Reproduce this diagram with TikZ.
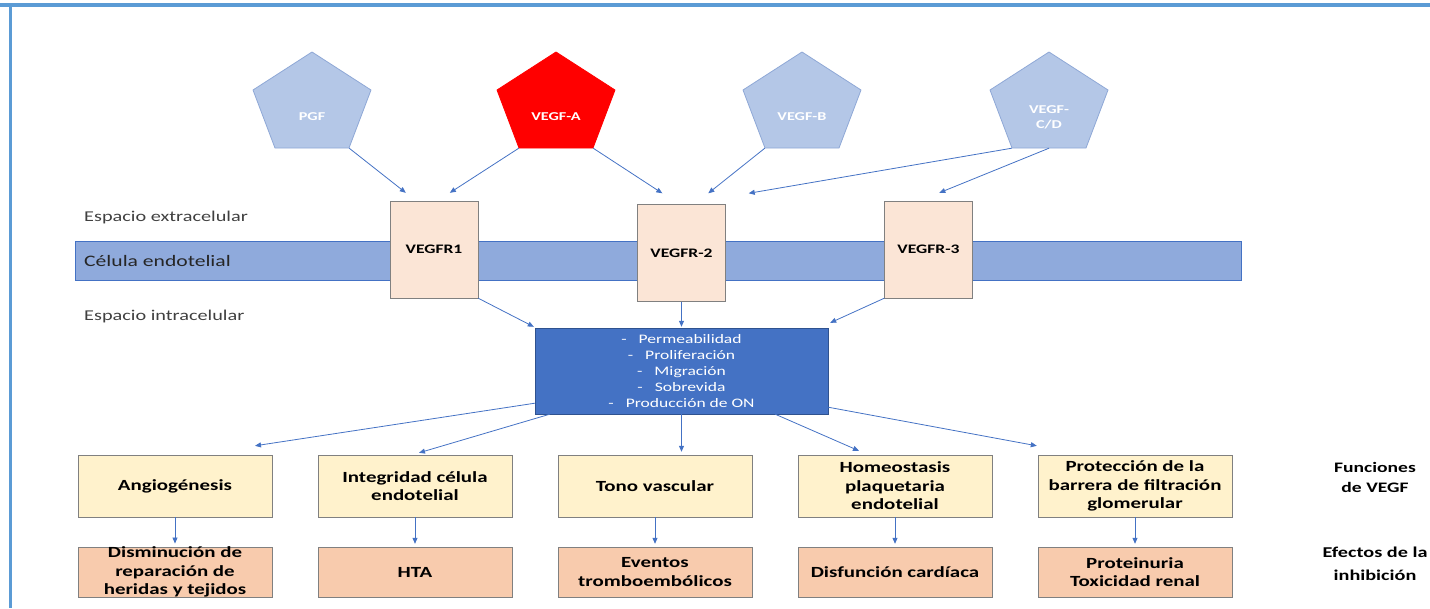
\documentclass[tikz,border=0pt]{standalone}
\usepackage{fontspec}
\setmainfont{Carlito}[FakeStretch=1.35]
\usetikzlibrary{arrows.meta}
\definecolor{marco}{HTML}{5B9BD5}
\definecolor{ligclaro}{HTML}{B4C7E7}
\definecolor{ligborde}{HTML}{8FA8D6}
\definecolor{rojo}{HTML}{FF0000}
\definecolor{membr}{HTML}{8FAADC}
\definecolor{recfill}{HTML}{FBE5D6}
\definecolor{azul}{HTML}{4472C4}
\definecolor{azulborde}{HTML}{2F528F}
\definecolor{funcfill}{HTML}{FFF2CC}
\definecolor{efecfill}{HTML}{F8CBAD}
\definecolor{texto}{HTML}{404040}
\begin{document}
\begin{tikzpicture}[x=1pt,y=-1pt,
  ligando/.style={minimum width=74pt,minimum height=62pt,inner sep=0pt,align=center,text=white,font=\bfseries\fontsize{12}{15}\selectfont},
  penta/.style={draw=ligborde,fill=ligclaro,line width=0.8pt},
  receptor/.style={draw=gray,fill=recfill,minimum width=88pt,minimum height=97pt,inner sep=0pt,font=\bfseries\fontsize{13}{15}\selectfont},
  senal/.style={draw=azulborde,fill=azul,text=white,minimum width=293pt,minimum height=86pt,inner sep=0pt,align=center,font=\fontsize{13}{16}\selectfont},
  funcion/.style={draw=gray,fill=funcfill,minimum width=194pt,minimum height=62pt,inner sep=0pt,align=center,font=\bfseries\fontsize{15.5}{18.5}\selectfont},
  efecto/.style={funcion,fill=efecfill,minimum height=50pt},
  etiqueta/.style={anchor=west,inner sep=0pt,text=texto,font=\fontsize{15}{18}\selectfont}]
\useasboundingbox (0,0) rectangle (1430,608);
\draw[marco,line width=3.5pt] (0,5) -- (1430,5);
\draw[marco,line width=3.5pt] (10.5,5) -- (10.5,608);
% ligandos
\filldraw[penta] (312,52) -- (371,90) -- (349,148) -- (275,148) -- (253,90) -- cycle;
\filldraw[penta,fill=rojo,draw=rojo] (556,52) -- (615,90) -- (593,148) -- (519,148) -- (497,90) -- cycle;
\filldraw[penta] (802,52) -- (861,90) -- (839,148) -- (765,148) -- (743,90) -- cycle;
\filldraw[penta] (1049,52) -- (1108,90) -- (1086,148) -- (1012,148) -- (990,90) -- cycle;
\node[ligando] (pgf) at (312,117) {PGF};
\node[ligando] (vegfa) at (556,117) {VEGF-A};
\node[ligando] (vegfb) at (802,117) {VEGF-B};
\node[ligando] (vegfcd) at (1049,117) {VEGF-\\C/D};
% membrana y receptores
\node[draw=azul,fill=membr,minimum width=1166pt,minimum height=38.6pt,inner sep=0pt] (membrana) at (658,260.5) {};
\node[etiqueta] (extra) at (84,217) {Espacio extracelular};
\node[etiqueta,font=\fontsize{16}{19}\selectfont,text=black!85] (celula) at (84,260.5) {Célula endotelial};
\node[etiqueta] (intra) at (84,316) {Espacio intracelular};
\node[receptor] (vegfr1) at (434,249.5) {VEGFR1};
\node[receptor] (vegfr2) at (681.5,253) {VEGFR-2};
\node[receptor] (vegfr3) at (928.5,249.5) {VEGFR-3};
\node[senal] (senal) at (681.5,371) {-\hspace{12pt}Permeabilidad\\-\hspace{12pt}Proliferación\\-\hspace{12pt}Migración\\-\hspace{12pt}Sobrevida\\-\hspace{12pt}Producción de ON};
% funciones
\node[funcion] (angio) at (175,486) {Angiogénesis};
\node[funcion] (integ) at (415,486) {Integridad célula\\endotelial};
\node[funcion] (tono) at (655,486) {Tono vascular};
\node[funcion] (homeo) at (895,486) {Homeostasis\\plaquetaria\\endotelial};
\node[funcion] (prot) at (1135,486) {Protección de la\\barrera de filtración\\glomerular};
% efectos
\node[efecto] (dismin) at (175,572) {Disminución de\\reparación de\\heridas y tejidos};
\node[efecto] (hta) at (415,572) {HTA};
\node[efecto] (eventos) at (655,572) {Eventos\\tromboembólicos};
\node[efecto] (disf) at (895,572) {Disfunción cardíaca};
\node[efecto] (protu) at (1135,572) {Proteinuria\\Toxicidad renal};
\node[align=center,inner sep=0pt,font=\bfseries\fontsize{14.5}{20}\selectfont] (funciones) at (1375,477) {Funciones\\de VEGF};
\node[align=center,inner sep=0pt,font=\bfseries\fontsize{15}{23}\selectfont] (efectos) at (1375,564) {Efectos de la\\inhibición};
\begin{scope}[every edge/.style={draw=azul,line width=0.8pt,-{Triangle[length=6pt,width=5pt]}}]
\draw (pgf.south east) edge ([xshift=16pt,yshift=8pt]vegfr1.north west);
\draw (vegfa.south west) edge ([xshift=60pt,yshift=8pt]vegfr1.north west);
\draw (vegfa.south east) edge ([xshift=25pt,yshift=11pt]vegfr2.north west);
\draw (vegfb.south west) edge ([xshift=71pt,yshift=11pt]vegfr2.north west);
\draw (vegfcd.south west) edge ([xshift=23pt,yshift=11pt]vegfr2.north east);
\draw (vegfcd.south) edge ([xshift=55pt,yshift=8pt]vegfr3.north west);
\draw (vegfr1.south east) edge ([xshift=-1pt,yshift=1pt]senal.north west);
\draw (vegfr2.south) edge ([yshift=1pt]senal.north);
\draw (vegfr3.south west) edge ([xshift=2pt,yshift=5pt]senal.north east);
\draw ([yshift=11pt]senal.south west) edge ([xshift=80pt,yshift=9pt]angio.north);
\draw ([xshift=15pt]senal.south west) edge ([xshift=4pt,yshift=2pt]integ.north);
\draw (senal.south) edge[shorten >=3pt] (senal.south |- tono.north);
\draw ([xshift=-53pt]senal.south east) edge ([xshift=-36pt,yshift=4pt]homeo.north);
\draw ([yshift=7pt]senal.south east) edge ([xshift=-1pt,yshift=9pt]prot.north west);
\draw (angio.south) edge[shorten >=3pt] (angio.south |- dismin.north);
\draw (integ.south) edge[shorten >=3pt] (integ.south |- hta.north);
\draw (tono.south) edge[shorten >=3pt] (tono.south |- eventos.north);
\draw (homeo.south) edge[shorten >=3pt] (homeo.south |- disf.north);
\draw (prot.south) edge[shorten >=3pt] (prot.south |- protu.north);
\end{scope}
\end{tikzpicture}
\end{document}
